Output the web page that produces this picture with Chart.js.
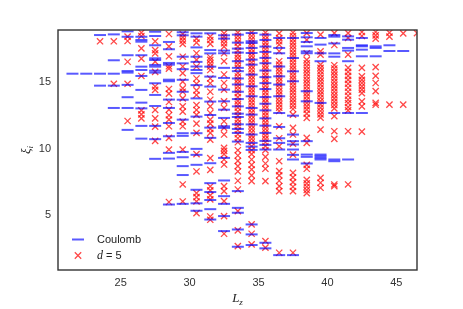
<!DOCTYPE html>
<html><head><meta charset="utf-8">
<script src="https://cdn.jsdelivr.net/npm/chart.js@4"></script>
<style>html,body{margin:0;padding:0;background:#fff}</style>
</head><body>
<canvas id="c" width="463" height="309"></canvas>
<script>
// ---- data ----
const lzValues = [21.5,22.5,23.5,24.5,25.5,26.5,27.5,28.5,29.5,30.5,31.5,32.5,33.5,34.5,35.5,36.5,37.5,38.5,39.5,40.5,41.5,42.5,43.5,44.5,45.5,46.5];

const coulombLevels = [
  [15.66],
  [15.66],
  [18.57,15.66,14.76],
  [18.62,16.67,15.66,14.76,13.08],
  [18.85,18.44,17.05,15.86,15.74,14.82,13.89,13.08,11.43],
  [18.44,18.2,18.07,17.05,16.19,15.94,15.49,14.44,13.48,13.05,11.73,10.77],
  [18.82,18.5,17.8,16.82,16.69,16.32,16.19,15.89,15.74,14.94,14.06,13.23,11.73,10.73,9.25],
  [18.05,17.5,16.47,16.34,15.21,15.09,13.71,13.08,11.95,10.95,9.7,9.27,5.81],
  [18.78,18.55,16.94,16.44,16.0,15.2,14.3,13.7,12.2,11.18,10.98,9.77,9.37,8.7,8.03,5.86],
  [18.7,18.45,17.64,16.94,16.55,16.2,15.94,15.7,14.8,13.8,12.43,11.18,10.0,9.55,8.8,6.92,5.9,5.34],
  [18.7,17.44,17.19,16.19,15.44,14.69,13.56,12.55,11.6,10.83,8.92,7.42,6.75,6.15,5.46,4.68],
  [18.55,18.3,17.4,17.2,16.1,15.34,14.46,13.58,12.95,12.33,11.7,11.58,9.32,7.62,6.44,5.86,4.94,3.81],
  [18.6,18.0,17.55,17.25,16.6,16.1,15.85,15.3,14.85,14.3,13.75,13.2,12.65,12.4,11.85,11.5,11.2,10.55,6.82,5.56,5.19,3.93,2.63],
  [18.72,18.1,17.97,17.6,17.22,16.72,16.34,15.59,14.71,13.96,13.08,12.58,11.84,11.08,10.45,10.17,9.92,4.31,3.56,2.76],
  [18.6,18.2,17.7,17.3,16.85,16.45,15.9,15.4,14.95,14.5,13.9,13.4,12.9,12.3,11.75,11.2,10.6,10.3,9.95,2.93,2.51],
  [18.35,17.6,17.2,16.2,15.46,14.84,13.96,12.7,11.65,10.8,10.45,9.95,2.0],
  [18.35,16.84,15.84,15.09,12.5,11.08,10.58,10.33,9.95,9.55,9.2,2.0],
  [18.72,18.4,18.05,17.72,17.34,17.2,14.34,13.58,10.58,9.57,9.4,8.9],
  [18.35,17.85,17.2,16.6,13.46,9.57,9.45,9.32,9.2],
  [18.57,18.45,17.94,17.19,16.94,12.7,9.2,9.07],
  [18.47,18.22,17.6,17.4,16.6,12.7,9.2],
  [18.35,17.8,17.72,17.47,16.97,12.7],
  [17.72,17.6,16.97],
  [17.8,17.37],
  [17.37],
  []
];

const d5Levels = [
  [],
  [],
  [18.1],
  [18.1,14.9],
  [18.45,18.12,16.56,14.9,12.1],
  [18.75,18.5,17.57,16.8,15.49,12.9,12.6,12.3],
  [18.1,17.44,17.19,16.57,15.8,14.7,14.44,12.93,12.3,11.68,10.6],
  [18.65,17.72,16.97,16.22,16.04,14.51,14.16,13.53,12.96,12.53,12.2,11.7,10.83,9.95,6.0],
  [18.65,18.4,18.15,17.9,16.94,16.2,15.7,15.06,14.56,14.3,13.8,13.2,12.8,12.05,11.7,9.95,7.32,6.04],
  [18.3,18.0,17.2,16.7,16.2,15.3,14.9,14.4,14.06,13.3,12.93,12.56,11.9,11.2,9.6,8.3,6.67,6.37,6.04,5.16],
  [18.45,18.2,17.9,16.9,16.7,16.44,16.2,15.94,15.3,14.94,14.3,13.7,13.2,12.7,12.2,11.9,11.5,11.2,10.7,9.3,8.42,7.17,6.87,6.5,6.2,4.91,4.66],
  [18.7,18.45,18.2,17.95,17.7,17.2,16.6,15.6,14.96,14.46,13.58,13.08,12.08,11.58,11.08,10.08,9.85,9.6,9.2,8.82,7.2,6.82,6.07,4.94,3.61],
  [18.75,18.5,18.25,18.0,17.7,17.4,17.1,16.85,16.6,16.35,16.1,15.7,15.45,15.2,14.95,14.7,14.45,14.2,13.9,13.6,13.35,13.1,12.8,12.5,12.2,11.95,11.7,11.4,11.1,10.8,10.5,9.9,9.5,9.1,8.7,8.3,7.6,6.94,5.31,3.86,2.68],
  [18.75,18.5,18.25,18.0,17.75,17.5,17.25,17.0,16.75,16.5,16.25,16.0,15.75,15.5,15.25,15.0,14.75,14.5,14.25,14.0,13.75,13.5,13.25,13.0,12.75,12.5,12.25,12.0,11.75,11.5,11.25,11.0,10.75,10.5,10.2,9.9,9.6,9.2,8.8,8.45,8.0,7.57,4.31,3.61,2.81],
  [18.75,18.5,18.25,18.0,17.75,17.5,17.25,17.0,16.75,16.5,16.25,16.0,15.75,15.5,15.25,15.0,14.75,14.5,14.25,14.0,13.75,13.5,13.25,13.0,12.75,12.5,12.25,12.0,11.75,11.5,11.25,11.0,10.75,10.5,10.2,9.9,9.4,8.9,8.5,7.57,3.06,2.56],
  [18.7,18.35,18.1,17.85,17.35,16.6,16.35,16.1,15.85,15.6,15.35,15.1,14.85,14.6,14.35,14.1,13.85,13.6,13.35,13.1,12.85,11.7,10.8,10.2,9.07,8.32,8.0,7.6,7.2,6.82,2.18],
  [18.75,18.5,18.25,18.0,17.75,17.5,17.25,17.0,16.75,16.5,16.25,16.0,15.75,15.5,15.25,15.0,14.75,14.5,14.25,14.0,13.75,13.5,13.25,13.0,12.58,11.58,11.08,10.4,9.57,8.2,7.85,7.5,7.15,6.82,2.18],
  [18.72,18.2,17.2,16.7,16.45,16.2,15.95,15.7,15.45,15.2,14.95,14.7,14.45,14.2,13.95,13.7,13.45,13.2,12.95,12.65,12.33,10.83,10.45,8.8,8.5,7.67,7.4,7.15,6.9,6.67],
  [18.6,17.34,17.1,16.34,16.1,15.85,15.6,15.35,15.1,14.85,14.6,14.35,14.1,13.85,13.6,13.35,13.1,12.85,12.6,12.35,11.45,7.82,7.45,7.07],
  [18.72,17.82,16.3,16.05,15.8,15.55,15.3,15.05,14.8,14.55,14.3,14.05,13.8,13.55,13.3,13.05,12.46,11.33,10.75,7.32,7.19],
  [18.72,18.35,17.1,16.1,15.8,15.5,15.2,14.9,14.6,14.3,14.0,13.7,13.45,13.15,12.9,11.33,7.32],
  [18.8,18.5,16.1,15.46,15.2,14.96,14.71,14.46,14.2,13.58,13.2,11.3],
  [18.8,18.55,18.3,16.15,15.5,14.96,14.35,13.46,13.32],
  [18.75,18.45,13.33],
  [18.7,13.33],
  [18.72]
];

const seriesNames = ['Coulomb', 'd = 5'];
const xTicks = [25, 30, 35, 40, 45];
const yTicks = [5, 10, 15];
const xRange = [20.45, 46.5];
const yRange = [0.88, 18.95];

// ---- build datasets ----
const toPoints = levels => lzValues.flatMap((lz, i) => levels[i].map(e => ({x: lz, y: e})));

const BLUE = 'rgba(0,0,255,0.65)';
const RED = 'rgba(255,0,0,0.72)';

const framePlugin = {
  id: 'frame',
  afterDatasetsDraw(chart) {
    const {ctx, chartArea: a} = chart;
    ctx.save();
    ctx.strokeStyle = '#333';
    ctx.lineWidth = 1.4;
    ctx.strokeRect(a.left, a.top, a.right - a.left, a.bottom - a.top);
    ctx.restore();
  }
};

const legendPlugin = {
  id: 'customLegend',
  afterDraw(chart) {
    const {ctx, chartArea: a} = chart;
    ctx.save();
    const mx = a.left + 20, tx = a.left + 39;
    const y1 = a.bottom - 30.5, y2 = a.bottom - 14.5;
    ctx.strokeStyle = BLUE; ctx.lineWidth = 2;
    ctx.beginPath(); ctx.moveTo(mx - 6, y1); ctx.lineTo(mx + 6, y1); ctx.stroke();
    ctx.strokeStyle = RED; ctx.lineWidth = 1.3;
    const r = 3.2;
    ctx.beginPath();
    ctx.moveTo(mx - r, y2 - r); ctx.lineTo(mx + r, y2 + r);
    ctx.moveTo(mx + r, y2 - r); ctx.lineTo(mx - r, y2 + r);
    ctx.stroke();
    ctx.fillStyle = '#222';
    ctx.textBaseline = 'middle';
    ctx.font = '11px "Liberation Sans", Arial, sans-serif';
    ctx.fillText(seriesNames[0], tx, y1);
    ctx.font = 'italic 12px "Liberation Serif", "DejaVu Serif", serif';
    ctx.fillText('d', tx, y2);
    const dw = ctx.measureText('d').width;
    ctx.font = '11px "Liberation Sans", Arial, sans-serif';
    ctx.fillText(' = 5', tx + dw, y2);
    ctx.restore();
  }
};

const titlePlugin = {
  id: 'axisTitles',
  afterDraw(chart) {
    const {ctx, chartArea: a} = chart;
    ctx.save();
    ctx.fillStyle = '#222';
    ctx.textBaseline = 'alphabetic';
    const cx = (a.left + a.right) / 2;
    ctx.font = 'italic 13px "Liberation Serif", "DejaVu Serif", serif';
    const lw = ctx.measureText('L').width;
    ctx.font = 'italic 9px "Liberation Serif", "DejaVu Serif", serif';
    const zw = ctx.measureText('z').width;
    const startX = cx - (lw + zw) / 2;
    ctx.font = 'italic 13px "Liberation Serif", "DejaVu Serif", serif';
    ctx.fillText('L', startX, 302);
    ctx.font = 'italic 9px "Liberation Serif", "DejaVu Serif", serif';
    ctx.fillText('z', startX + lw, 305);
    ctx.translate(30, (a.top + a.bottom) / 2);
    ctx.rotate(-Math.PI / 2);
    ctx.font = 'italic 13px "Liberation Serif", "DejaVu Serif", serif';
    const xw = ctx.measureText('ξ').width;
    ctx.font = 'italic 9px "Liberation Serif", "DejaVu Serif", serif';
    const iw = ctx.measureText('i').width;
    const sx = -(xw + iw) / 2;
    ctx.font = 'italic 13px "Liberation Serif", "DejaVu Serif", serif';
    ctx.fillText('ξ', sx, 0);
    ctx.font = 'italic 9px "Liberation Serif", "DejaVu Serif", serif';
    ctx.fillText('i', sx + xw, 3);
    ctx.restore();
  }
};

new Chart(document.getElementById('c'), {
  type: 'scatter',
  data: {
    datasets: [
      {
        label: seriesNames[0],
        data: toPoints(coulombLevels),
        pointStyle: 'line',
        pointRadius: 6,
        pointBorderWidth: 2,
        borderColor: BLUE,
        backgroundColor: BLUE,
        showLine: false,
        clip: 0
      },
      {
        label: seriesNames[1],
        data: toPoints(d5Levels),
        pointStyle: 'crossRot',
        pointRadius: 4.4,
        pointBorderWidth: 1.3,
        borderColor: RED,
        backgroundColor: RED,
        showLine: false,
        clip: 0
      }
    ]
  },
  options: {
    responsive: false,
    animation: false,
    devicePixelRatio: 1,
    events: [],
    layout: {padding: {top: 30, right: 46, left: 0, bottom: 0}},
    plugins: {legend: {display: false}, tooltip: {enabled: false}},
    scales: {
      x: {
        type: 'linear',
        min: xRange[0], max: xRange[1],
        grid: {display: false, drawTicks: false},
        border: {display: false},
        ticks: {color: '#333', padding: 6, font: {size: 11, family: '"Liberation Sans", Arial, sans-serif'}, maxRotation: 0},
        afterBuildTicks: s => { s.ticks = xTicks.map(v => ({value: v})); },
        afterFit: s => { s.height = 39; }
      },
      y: {
        type: 'linear',
        min: yRange[0], max: yRange[1],
        grid: {display: false, drawTicks: false},
        border: {display: false},
        ticks: {color: '#333', padding: 7, font: {size: 11, family: '"Liberation Sans", Arial, sans-serif'}},
        afterBuildTicks: s => { s.ticks = yTicks.map(v => ({value: v})); },
        afterFit: s => { s.width = 58; }
      }
    }
  },
  plugins: [framePlugin, legendPlugin, titlePlugin]
});
</script>
</body></html>
